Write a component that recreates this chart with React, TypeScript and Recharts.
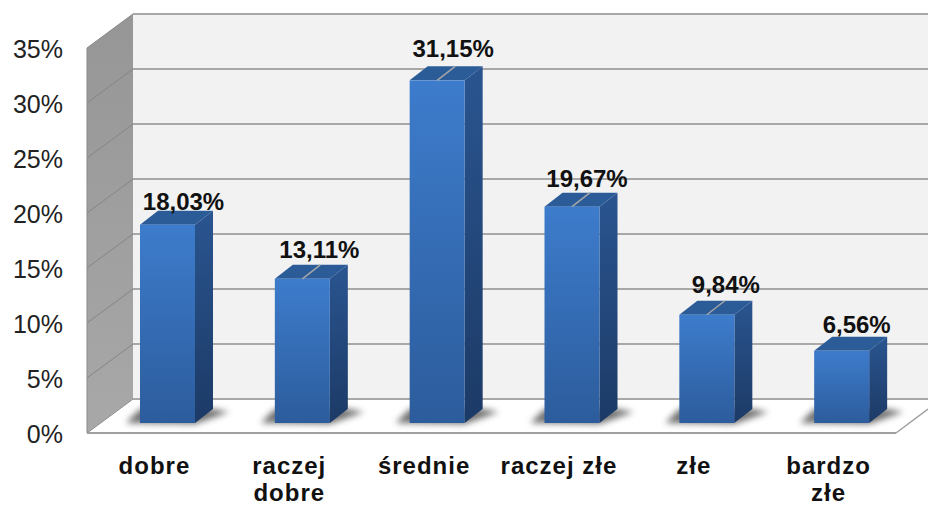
import React from "react";
import { Bar, BarChart, CartesianGrid, LabelList, XAxis, YAxis } from "recharts";

const categoryLines = [["dobre"], ["raczej", "dobre"], ["średnie"], ["raczej złe"], ["złe"], ["bardzo", "złe"]];
const categories = categoryLines.map((l) => l.join(" "));
const shares = [18.03, 13.11, 31.15, 19.67, 9.84, 6.56];
const yTicks = [0, 5, 10, 15, 20, 25, 30, 35];
const data = categories.map((name, i) => ({ name, share: shares[i] }));

// Presentation only: how the 3D projection and the label placement look.
const W = 928, H = 506;
const PLOT = { left: 87, right: 896, top: 48, bottom: 433 };
const WALL = { dx: 46, dy: -34 };
const BAR = { dx: 13, dy: -10, sideX: 18, sideY: -14 };
const labelDx = [16, 17, 16, 15, 19, 15];
const labelDy = [-23, -29, -32, -28, -30, -26];
const hasLeader = [false, true, true, true, true, false];
const FONT = "'Liberation Sans', Arial, sans-serif";

// Drawn once, from the top grid line, so the walls sit underneath the grid lines.
const WallShape = (p: any) => {
  if (Math.abs(p.y1 - PLOT.top) > 1) return <g />;
  const backX = PLOT.left + WALL.dx;
  const backTop = PLOT.top + WALL.dy;
  const backBottom = PLOT.bottom + WALL.dy;
  return (
    <g>
      <polygon
        points={`${PLOT.left},${PLOT.top} ${backX},${backTop} ${backX},${backBottom} ${PLOT.left},${PLOT.bottom}`}
        fill="url(#leftWall)"
      />
      <rect x={backX} y={backTop} width={W} height={PLOT.bottom - PLOT.top} fill="#f2f2f2" />
      <polygon
        points={`${PLOT.left},${PLOT.bottom} ${backX},${backBottom} ${PLOT.right + WALL.dx},${backBottom} ${PLOT.right},${PLOT.bottom}`}
        fill="#ffffff"
      />
      <line x1={backX} y1={backBottom} x2={W} y2={backBottom} stroke="#a8a8a8" strokeWidth={2} />
      <line x1={PLOT.left} y1={PLOT.bottom} x2={backX} y2={backBottom} stroke="#d9d9d9" strokeWidth={1} />
    </g>
  );
};

const GridLine = (p: any) => {
  const y = p.y1;
  return (
    <g>
      <line x1={PLOT.left} y1={y} x2={PLOT.left + WALL.dx} y2={y + WALL.dy} stroke="#858585" strokeWidth={1} />
      <line x1={PLOT.left + WALL.dx} y1={y + WALL.dy} x2={W} y2={y + WALL.dy} stroke="#a8a8a8" strokeWidth={2} />
    </g>
  );
};

const Bar3D = (p: any) => {
  const { x, y, width, height } = p;
  const l = x + BAR.dx, t = y + BAR.dy, r = l + width, b = t + height;
  const { sideX: sx, sideY: sy } = BAR;
  return (
    <g>
      <polygon
        points={`${l - 14},${b} ${r},${b + 1} ${r + sx + 16},${b + sy + 3} ${r + sx},${b + sy} ${l},${b + sy}`}
        fill="#4d4d4d"
        opacity={0.8}
        filter="url(#soft)"
      />
      <polygon points={`${r},${t} ${r + sx},${t + sy} ${r + sx},${b + sy} ${r},${b}`} fill="url(#barSide)" />
      <polygon points={`${l},${t} ${l + sx},${t + sy} ${r + sx},${t + sy} ${r},${t}`} fill="#2b5c98" />
      <rect x={l} y={t} width={width} height={height} fill="url(#barFront)" />
    </g>
  );
};

const ValueLabel = (p: any) => {
  const { x, y, width, value, index } = p;
  const cx = x + BAR.dx + width / 2;
  const top = y + BAR.dy;
  return (
    <g>
      {hasLeader[index] && (
        <line x1={cx} y1={top} x2={cx + BAR.sideX} y2={top + BAR.sideY} stroke="#a6a6a6" strokeWidth={1.5} />
      )}
      <text
        x={cx + labelDx[index]}
        y={top + labelDy[index]}
        textAnchor="middle"
        dy="0.36em"
        fontFamily={FONT}
        fontSize={24}
        fontWeight={700}
        fill="#111111"
      >
        {`${Number(value).toFixed(2).replace(".", ",")}%`}
      </text>
    </g>
  );
};

const CategoryTick = (p: any) => {
  const { x, payload, index } = p;
  const lines = categoryLines[index] ?? [payload.value];
  return (
    <text textAnchor="middle" fontFamily={FONT} fontSize={24} fontWeight={700} fill="#111111" letterSpacing={1}>
      {lines.map((line: string, i: number) => (
        <tspan key={line} x={x} y={474 + i * 27}>
          {line}
        </tspan>
      ))}
    </text>
  );
};

const ValueTick = (p: any) => (
  <text x={63} y={p.y + 1} dy="0.36em" textAnchor="end" fontFamily={FONT} fontSize={25} fill="#222222">
    {`${p.payload.value}%`}
  </text>
);

export default function App() {
  return (
    <div style={{ position: "absolute", left: 0, top: 0, width: W, height: H, background: "#fff" }}>
      <BarChart
        width={W}
        height={H}
        data={data}
        margin={{ left: 0, top: PLOT.top, right: W - PLOT.right, bottom: 0 }}
        barCategoryGap="0%"
      >
        <defs>
          <linearGradient id="barFront" x1="0" y1="0" x2="0" y2="1">
            <stop offset="0" stopColor="#3d7ccc" />
            <stop offset="1" stopColor="#2c5c9c" />
          </linearGradient>
          <linearGradient id="barSide" x1="0" y1="0" x2="0" y2="1">
            <stop offset="0" stopColor="#2a5590" />
            <stop offset="1" stopColor="#1c3a66" />
          </linearGradient>
          <linearGradient id="leftWall" x1="0" y1="0" x2="0" y2="1">
            <stop offset="0" stopColor="#969696" />
            <stop offset="1" stopColor="#a8a8a8" />
          </linearGradient>
          <filter id="soft" x="-30%" y="-100%" width="160%" height="300%">
            <feGaussianBlur stdDeviation="3" />
          </filter>
        </defs>
        <CartesianGrid vertical={false} horizontal={WallShape as any} />
        <CartesianGrid vertical={false} horizontal={GridLine as any} />
        <XAxis
          dataKey="name"
          interval={0}
          height={H - PLOT.bottom}
          axisLine={{ stroke: "#a0a0a0", strokeWidth: 2 }}
          tickLine={false}
          tick={CategoryTick as any}
        />
        <YAxis width={PLOT.left} domain={[0, 35]} ticks={yTicks} axisLine={{ stroke: "#8a8a8a", strokeWidth: 1 }} tickLine={false} tick={ValueTick as any} />
        <Bar dataKey="share" barSize={55} shape={Bar3D as any} isAnimationActive={false}>
          <LabelList dataKey="share" content={ValueLabel as any} />
        </Bar>
        <line x1={PLOT.right} y1={PLOT.bottom} x2={W} y2={PLOT.bottom - 24} stroke="#a0a0a0" strokeWidth={1.5} />
      </BarChart>
    </div>
  );
}
